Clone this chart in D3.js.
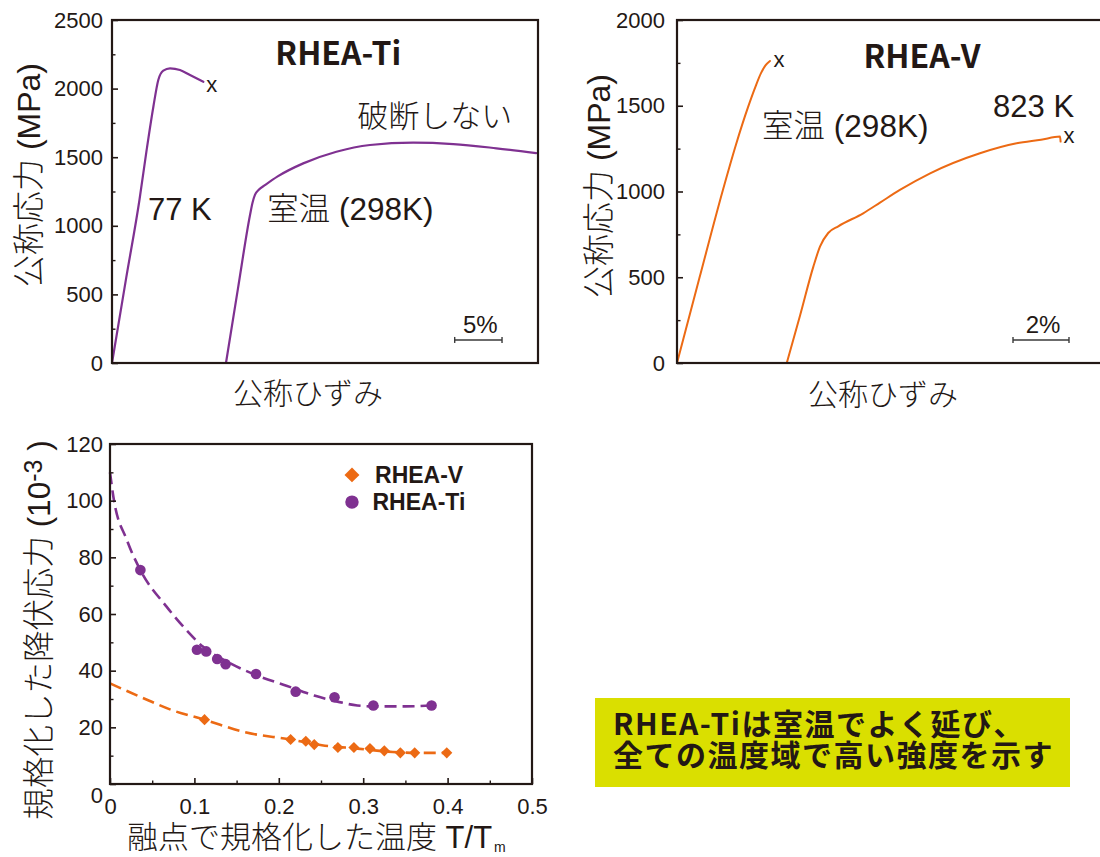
<!DOCTYPE html>
<html>
<head>
<meta charset="utf-8">
<script src="https://cdn.jsdelivr.net/npm/d3@7"></script>
<style>
  html, body { margin: 0; padding: 0; background: #fff; }
  svg { display: block; }
</style>
</head>
<body>
<svg id="fig" width="1100" height="857"></svg>
<script>
// ---------- data ----------
// RHEA-Ti tensile curves (nominal strain %, nominal stress MPa)
const ti77Strain = [0, 1.5, 2.9, 3.66, 4.37, 4.89, 5.42, 6.13, 7.18, 8.24, 9.65];
const ti77Stress = [0, 620, 1188, 1553, 1868, 2063, 2131, 2148, 2136, 2099, 2050];
const tiRtStrain = [12.04, 13.3, 14.58, 14.85, 15.1, 15.5, 16.2, 17.5, 20.2, 23.7, 27.25, 31.8, 36.05, 40.6, 44.8];
const tiRtStress = [0, 540, 1079, 1170, 1225, 1262, 1298, 1360, 1455, 1540, 1589, 1606, 1596, 1565, 1530];

// RHEA-V tensile curves
const vRtStrain = [0, 0.8, 1.64, 2.1, 2.54, 2.8, 3.0, 3.16, 3.32];
const vRtStress = [0, 495, 1009, 1270, 1493, 1610, 1690, 1735, 1761];
const v823Strain = [3.92, 4.4, 4.87, 5.11, 5.40, 5.76, 6.65, 7.25, 7.96, 9.04, 10.82, 12.13, 13.0, 13.68, 13.70];
const v823Stress = [0, 280, 562, 680, 758, 797, 873, 935, 1009, 1106, 1223, 1281, 1302, 1320, 1291];

// Normalized yield stress (x10^-3) vs homologous temperature T/Tm
const tiT = [0.036, 0.103, 0.114, 0.127, 0.137, 0.173, 0.220, 0.266, 0.312, 0.381];
const tiY = [75.5, 47.4, 46.8, 44.1, 42.3, 38.8, 32.6, 30.6, 27.7, 27.7];
const vT  = [0.112, 0.214, 0.232, 0.242, 0.270, 0.289, 0.308, 0.325, 0.344, 0.361, 0.399];
const vY  = [22.7, 15.7, 15.1, 13.9, 12.9, 12.9, 12.5, 11.7, 11.0, 11.0, 11.0];

// Fitted trend curves
const tiFitT = [0, 0.004, 0.02, 0.036, 0.067, 0.09, 0.11, 0.14, 0.175, 0.209, 0.242, 0.272, 0.293, 0.314, 0.35, 0.381];
const tiFitY = [110, 101.4, 86.1, 75.5, 62.6, 54.5, 48.5, 43.0, 38.2, 34.7, 31.2, 28.9, 27.7, 27.4, 27.4, 27.7];
const vFitT  = [0, 0.041, 0.074, 0.112, 0.158, 0.214, 0.251, 0.293, 0.335, 0.362, 0.399];
const vFitY  = [35.5, 30.1, 26.0, 22.7, 18.4, 15.7, 13.7, 12.5, 11.3, 11.0, 11.0];

// Tick values
const stressTicksTi = [0, 500, 1000, 1500, 2000, 2500];
const stressTicksV  = [0, 500, 1000, 1500, 2000];
const tempTicks  = [0, 0.1, 0.2, 0.3, 0.4, 0.5];
const yieldTicks = [0, 20, 40, 60, 80, 100, 120];

// ---------- styles ----------
const INK = "#231815";
const PURPLE = "#7f3191";
const ORANGE = "#ec6a14";
const LATIN = "'Liberation Sans', Arial, 'Noto Sans CJK JP', sans-serif";
const JP = "'Noto Sans CJK JP', 'Liberation Sans', sans-serif";

const svg = d3.select("#fig");

function frame(left, right, top, bottom) {
  svg.append("rect")
    .attr("x", left).attr("y", top)
    .attr("width", right - left).attr("height", bottom - top)
    .attr("fill", "none").attr("stroke", INK).attr("stroke-width", 2.2);
}

function leftAxis(y, left, major, minor, fmt, padding) {
  const g = svg.append("g")
    .attr("transform", `translate(${left},0)`)
    .call(d3.axisLeft(y).tickValues(major).tickSizeInner(-6).tickSizeOuter(0)
      .tickPadding(padding).tickFormat(fmt));
  g.attr("font-size", 22).attr("font-family", LATIN).attr("color", INK);
  g.select(".domain").remove();
  g.selectAll(".tick line").attr("stroke-width", 1.6);
  const gm = svg.append("g")
    .attr("transform", `translate(${left},0)`)
    .call(d3.axisLeft(y).tickValues(minor).tickSizeInner(-3.5).tickSizeOuter(0).tickFormat(""));
  gm.attr("color", INK);
  gm.select(".domain").remove();
  gm.selectAll(".tick line").attr("stroke-width", 1.4);
  return g;
}

function label(x, y, str, size, opts = {}) {
  return svg.append("text")
    .attr("x", x).attr("y", y)
    .attr("font-size", size)
    .attr("font-family", opts.family || LATIN)
    .attr("font-weight", opts.weight || 300)
    .attr("text-anchor", opts.anchor || "start")
    .attr("letter-spacing", opts.spacing || 0)
    .attr("fill", INK)
    .text(str);
}

function scaleBar(x, y, s0, s1, yVal, txt) {
  const x0 = x(s0), x1 = x(s1), yy = y(yVal);
  const g = svg.append("g").attr("stroke", "#3a3a3a").attr("stroke-width", 1.4);
  g.append("line").attr("x1", x0).attr("x2", x1).attr("y1", yy).attr("y2", yy);
  g.append("line").attr("x1", x0).attr("x2", x0).attr("y1", yy - 3).attr("y2", yy + 3);
  g.append("line").attr("x1", x1).attr("x2", x1).attr("y1", yy - 3).attr("y2", yy + 3);
  label((x0 + x1) / 2 + 2, yy - 7, txt, 24, { anchor: "middle" });
}

function curve(x, y, xs, ys, color, width) {
  const line = d3.line().x(d => x(d[0])).y(d => y(d[1])).curve(d3.curveMonotoneX);
  svg.append("path")
    .datum(d3.zip(xs, ys))
    .attr("d", line)
    .attr("fill", "none")
    .attr("stroke", color)
    .attr("stroke-width", width)
    .attr("stroke-linejoin", "round")
    .attr("stroke-linecap", "round");
}

// ---------- panel 1: RHEA-Ti stress-strain ----------
{
  const L = 112, R = 538, T = 20, B = 363;
  const x = d3.scaleLinear().domain([0, 45]).range([L, R]);
  const y = d3.scaleLinear().domain([0, 2500]).range([B, T]);
  curve(x, y, ti77Strain, ti77Stress, PURPLE, 2.2);
  curve(x, y, tiRtStrain, tiRtStress, PURPLE, 2.2);
  frame(L, R, T, B);
  leftAxis(y, L, stressTicksTi, [250, 750, 1250, 1750, 2250], d3.format("d"), 9);

  label(x(23.9), y(2172), "RHEA-Ti", 32, { family: JP, weight: 700, anchor: "middle" });
  label(x(25.9), y(1720), "破断しない", 31);
  label(x(3.8), y(1042), "77 K", 31);
  label(x(16.4), y(1042), "室温 (298K)", 31.5);
  label(x(10.53), y(1975), "x", 22, { anchor: "middle" });
  scaleBar(x, y, 36.2, 41.2, 168, "5%");

  label(308, 404, "公称ひずみ", 30, { anchor: "middle", family: JP });
  svg.append("text")
    .attr("transform", "translate(40,175) rotate(-90)")
    .attr("text-anchor", "middle").attr("font-size", 32)
    .attr("font-family", LATIN).attr("font-weight", 300).attr("fill", INK)
    .text("公称応力 (MPa)");
}

// ---------- panel 2: RHEA-V stress-strain ----------
{
  const L = 677, R = 1111, T = 20, B = 363;
  const x = d3.scaleLinear().domain([0, 15.5]).range([L, R]);
  const y = d3.scaleLinear().domain([0, 2000]).range([B, T]);
  curve(x, y, vRtStrain, vRtStress, ORANGE, 2);
  curve(x, y, v823Strain, v823Stress, ORANGE, 2);
  frame(L, R, T, B);
  leftAxis(y, L, stressTicksV, [250, 750, 1250, 1750], d3.format("d"), 12);

  label(x(8.75), y(1720), "RHEA-V", 32, { family: JP, weight: 700, anchor: "middle" });
  label(x(3.04), y(1318), "室温 (298K)", 31.5);
  label(x(11.29), y(1434), "823 K", 31);
  label(x(3.64), y(1726), "x", 22, { anchor: "middle" });
  label(x(14.0), y(1283), "x", 22, { anchor: "middle" });
  scaleBar(x, y, 12.0, 14.0, 134, "2%");

  label(883, 405, "公称ひずみ", 30, { anchor: "middle", family: JP });
  svg.append("text")
    .attr("transform", "translate(610,186) rotate(-90)")
    .attr("text-anchor", "middle").attr("font-size", 32)
    .attr("font-family", LATIN).attr("font-weight", 300).attr("fill", INK)
    .text("公称応力 (MPa)");
}

// ---------- panel 3: normalized yield stress vs T/Tm ----------
{
  const L = 110, R = 532, T = 444, B = 784;
  const x = d3.scaleLinear().domain([0, 0.5]).range([L, R]);
  const y = d3.scaleLinear().domain([0, 120]).range([B, T]);

  const fit = d3.line().x(d => x(d[0])).y(d => y(d[1])).curve(d3.curveMonotoneX);
  svg.append("path").datum(d3.zip(vFitT, vFitY)).attr("d", fit)
    .attr("fill", "none").attr("stroke", ORANGE).attr("stroke-width", 2.6)
    .attr("stroke-dasharray", "12,6");
  svg.append("path").datum(d3.zip(tiFitT, tiFitY)).attr("d", fit)
    .attr("fill", "none").attr("stroke", PURPLE).attr("stroke-width", 2.6)
    .attr("stroke-dasharray", "12,6");

  const diamond = d3.symbol().type(d3.symbolSquare);
  svg.append("g").selectAll("path").data(d3.zip(vT, vY)).join("path")
    .attr("d", diamond.size(62)())
    .attr("transform", d => `translate(${x(d[0])},${y(d[1])}) rotate(45)`)
    .attr("fill", ORANGE);
  svg.append("g").selectAll("circle").data(d3.zip(tiT, tiY)).join("circle")
    .attr("cx", d => x(d[0])).attr("cy", d => y(d[1])).attr("r", 5.3)
    .attr("fill", PURPLE);

  frame(L, R, T, B);
  const gy = leftAxis(y, L, yieldTicks, [10, 30, 50, 70, 90, 110], d3.format("d"), 7);
  gy.selectAll(".tick text").filter(d => d === 0).attr("transform", "translate(0,11)");

  const gx = svg.append("g")
    .attr("transform", `translate(0,${B})`)
    .call(d3.axisBottom(x).tickValues(tempTicks).tickSizeInner(-6).tickSizeOuter(0)
      .tickPadding(14).tickFormat(d => d === 0 ? "0" : d3.format(".1f")(d)));
  gx.attr("font-size", 22).attr("font-family", LATIN).attr("color", INK);
  gx.select(".domain").remove();
  gx.selectAll(".tick line").attr("stroke-width", 1.6);
  const gxm = svg.append("g")
    .attr("transform", `translate(0,${B})`)
    .call(d3.axisBottom(x).tickValues([0.05, 0.15, 0.25, 0.35, 0.45]).tickSizeInner(-3.5).tickSizeOuter(0).tickFormat(""));
  gxm.attr("color", INK);
  gxm.select(".domain").remove();
  gxm.selectAll(".tick line").attr("stroke-width", 1.4);

  // legend
  svg.append("path")
    .attr("d", d3.symbol().type(d3.symbolSquare).size(112)())
    .attr("transform", `translate(${x(0.2867)},${y(109.1)}) rotate(45)`)
    .attr("fill", ORANGE);
  svg.append("circle").attr("cx", x(0.2867)).attr("cy", y(99.5)).attr("r", 6.7).attr("fill", PURPLE);
  label(x(0.314), y(106.2), "RHEA-V", 23, { weight: 700 });
  label(x(0.311), y(96.7), "RHEA-Ti", 23, { weight: 700 });

  // axis titles
  const xt = label(127, 848, "融点で規格化した温度 T/T", 31);
  xt.append("tspan").attr("font-size", 14).attr("dx", 2).attr("dy", 4).text("m");
  const yt = svg.append("text")
    .attr("transform", "translate(50,630) rotate(-90)")
    .attr("text-anchor", "middle").attr("font-size", 31.5)
    .attr("font-family", LATIN).attr("font-weight", 300).attr("fill", INK);
  yt.append("tspan").text("規格化した降伏応力 (10");
  yt.append("tspan").attr("font-size", 25).attr("dy", -8).text("-3");
  yt.append("tspan").attr("dy", 8).text(" )");
}

// ---------- highlight box ----------
svg.append("rect")
  .attr("x", 595).attr("y", 698).attr("width", 475).attr("height", 89)
  .attr("fill", "#dadf00");
label(613, 735, "RHEA-Tiは室温でよく延び、", 30, { family: JP, weight: 700, spacing: 1.5 });
label(613, 766, "全ての温度域で高い強度を示す", 30, { family: JP, weight: 700, spacing: 1.5 });
</script>
</body>
</html>
